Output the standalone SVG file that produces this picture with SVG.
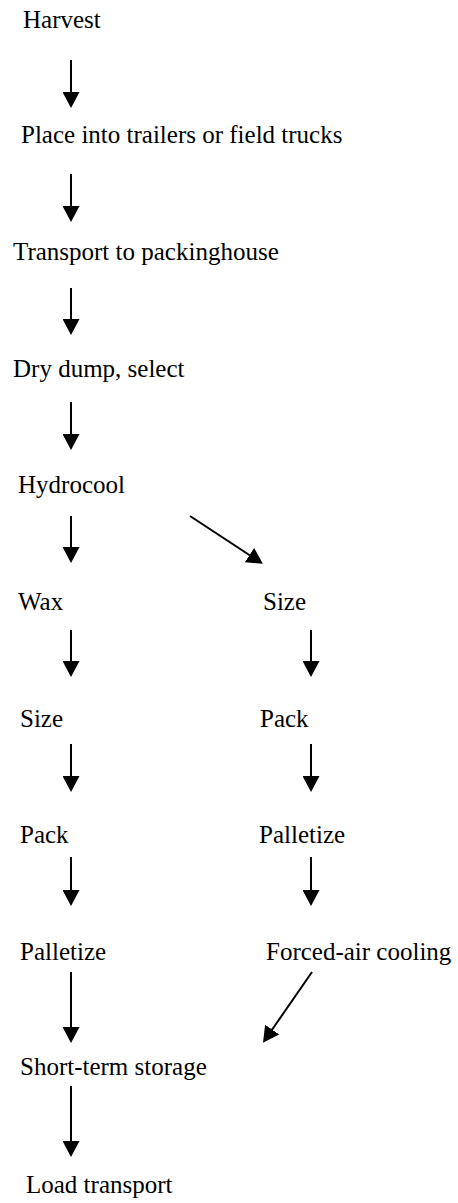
<svg xmlns="http://www.w3.org/2000/svg" width="458" height="1203" viewBox="0 0 458 1203">
  <defs>
    <marker id="head" markerUnits="userSpaceOnUse" markerWidth="17" markerHeight="17" refX="9" refY="8.5" orient="auto">
      <path d="M0,0 L16,8.5 L0,17 z" fill="#000"/>
    </marker>
  </defs>
  <rect width="458" height="1203" fill="#fff"/>

  <g font-family="Liberation Serif, Times New Roman, DejaVu Serif, serif" font-size="25" fill="#000">
    <!-- process steps -->
    <g id="harvest"><text x="23" y="28">Harvest</text></g>
    <g id="place-trailers"><text x="21" y="143">Place into trailers or field trucks</text></g>
    <g id="transport-packinghouse"><text x="13" y="260">Transport to packinghouse</text></g>
    <g id="dry-dump"><text x="13" y="377">Dry dump, select</text></g>
    <g id="hydrocool"><text x="18" y="493">Hydrocool</text></g>

    <!-- left branch -->
    <g id="wax"><text x="18" y="610">Wax</text></g>
    <g id="size-left"><text x="20" y="727">Size</text></g>
    <g id="pack-left"><text x="20" y="843">Pack</text></g>
    <g id="palletize-left"><text x="20" y="960">Palletize</text></g>
    <g id="short-term-storage"><text x="20" y="1075">Short-term storage</text></g>
    <g id="load-transport"><text x="26" y="1193">Load transport</text></g>

    <!-- right branch -->
    <g id="size-right"><text x="263" y="610">Size</text></g>
    <g id="pack-right"><text x="260" y="727">Pack</text></g>
    <g id="palletize-right"><text x="259" y="843">Palletize</text></g>
    <g id="forced-air-cooling"><text x="266" y="960">Forced-air cooling</text></g>
  </g>

  <!-- connectors -->
  <g id="connectors" stroke="#000" stroke-width="2" fill="none" marker-end="url(#head)">
    <line x1="71" y1="60" x2="71" y2="101"/>
    <line x1="71" y1="174" x2="71" y2="215"/>
    <line x1="71" y1="288" x2="71" y2="328"/>
    <line x1="71" y1="402" x2="71" y2="443"/>
    <line x1="71" y1="516" x2="71" y2="556"/>
    <line x1="190" y1="516" x2="257" y2="560"/>
    <line x1="71" y1="630" x2="71" y2="670"/>
    <line x1="311" y1="630" x2="311" y2="670"/>
    <line x1="71" y1="744" x2="71" y2="785"/>
    <line x1="311" y1="744" x2="311" y2="785"/>
    <line x1="71" y1="857" x2="71" y2="899"/>
    <line x1="311" y1="857" x2="311" y2="899"/>
    <line x1="71" y1="972" x2="71" y2="1036"/>
    <line x1="312" y1="972" x2="267" y2="1037"/>
    <line x1="71" y1="1086" x2="71" y2="1150"/>
  </g>
</svg>
